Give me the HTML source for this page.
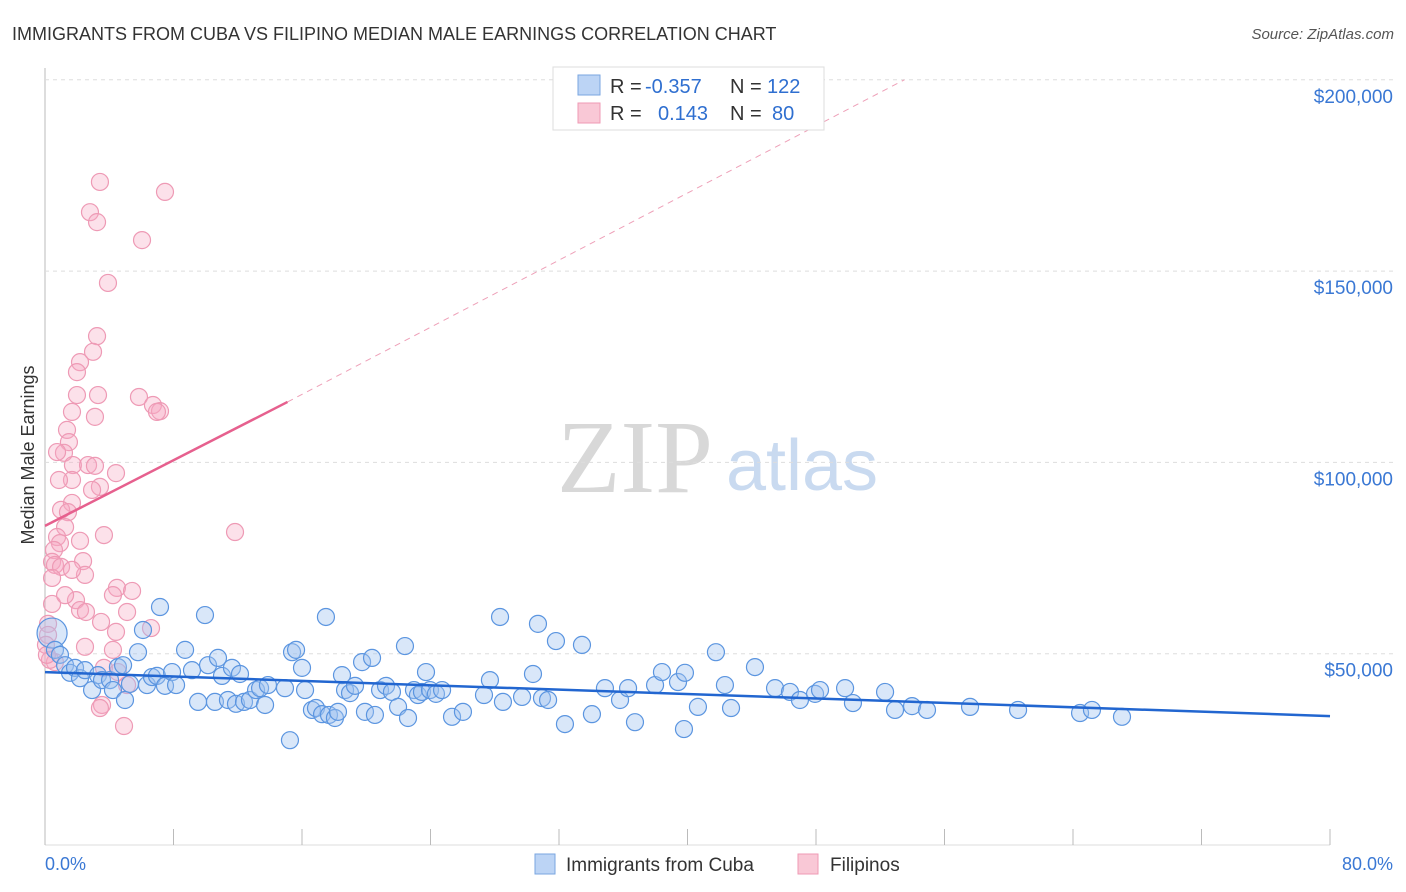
<!DOCTYPE html>
<html><head><meta charset="utf-8">
<style>
body{margin:0;background:#fff;font-family:"Liberation Sans",sans-serif;}
#wrap{position:relative;width:1406px;height:892px;overflow:hidden;}
svg text{font-family:"Liberation Sans",sans-serif;}
</style></head>
<body>
<div id="wrap">
<svg id="svg" width="1406" height="892">
<text x="12" y="40" font-size="18" fill="#333">IMMIGRANTS FROM CUBA VS FILIPINO MEDIAN MALE EARNINGS CORRELATION CHART</text>
<text x="1394" y="39" font-size="15" fill="#555" font-style="italic" text-anchor="end">Source: ZipAtlas.com</text>
<text x="635" y="492" font-size="104" fill="#d8d8d8" text-anchor="middle" style="font-family:'Liberation Serif',serif">ZIP</text>
<text x="802" y="490" font-size="72" fill="#c9daf0" text-anchor="middle">atlas</text>
<text x="34" y="455" font-size="18" fill="#333" text-anchor="middle" transform="rotate(-90 34 455)">Median Male Earnings</text>
<g id="grid"></g><g id="marks"></g>
<g>
<rect x="553" y="67" width="271" height="63" fill="#fff" stroke="#ddd"/>
<rect x="578" y="75" width="22" height="20" fill="#bcd4f5" stroke="#7aa6e0"/>
<rect x="578" y="103" width="22" height="20" fill="#f9c8d6" stroke="#ef9ab4"/>
<text x="610" y="93" font-size="20" fill="#333">R = <tspan fill="#2f6fd0" x="645">-0.357</tspan><tspan x="730">N = </tspan><tspan fill="#2f6fd0" x="767">122</tspan></text>
<text x="610" y="120" font-size="20" fill="#333">R = <tspan fill="#2f6fd0" x="658">0.143</tspan><tspan x="730">N = </tspan><tspan fill="#2f6fd0" x="772">80</tspan></text>
</g>
<g>
<rect x="535" y="854" width="20" height="20" fill="#bcd4f5" stroke="#7aa6e0"/>
<text x="566" y="871" font-size="19" fill="#333">Immigrants from Cuba</text>
<rect x="798" y="854" width="20" height="20" fill="#f9c8d6" stroke="#ef9ab4"/>
<text x="830" y="871" font-size="19" fill="#333">Filipinos</text>
</g>
<text x="45" y="870" font-size="18" fill="#3a78d4">0.0%</text>
<text x="1393" y="870" font-size="18" fill="#3a78d4" text-anchor="end">80.0%</text>
</svg>
</div>
<script>
const yTicks=[50,100,150,200];
const yTickLabels=["$50,000","$100,000","$150,000","$200,000"];
const xTicks=[0,8,16,24,32,40,48,56,64,72,80];
const bluePx=[[52,633],[55,650],[60,655],[65,665],[70,673],[75,668],[80,678],[85,670],[92,690],[98,675],[102,680],[110,680],[113,690],[118,667],[123,665],[125,700],[130,684],[138,652],[143,630],[147,685],[152,677],[157,676],[160,607],[165,686],[172,672],[176,685],[185,650],[192,670],[198,702],[205,615],[208,665],[215,702],[218,658],[222,676],[228,700],[232,668],[236,704],[240,674],[244,702],[250,700],[256,690],[260,688],[265,705],[268,685],[285,688],[290,740],[292,652],[296,650],[302,668],[305,690],[312,710],[316,708],[322,714],[326,617],[329,715],[335,718],[338,712],[342,675],[345,690],[350,693],[355,686],[362,662],[365,712],[372,658],[375,715],[380,690],[386,686],[392,692],[398,707],[405,646],[408,718],[414,690],[418,695],[422,692],[426,672],[430,690],[436,694],[442,690],[452,717],[463,712],[484,695],[490,680],[500,617],[503,702],[522,697],[533,674],[538,624],[542,698],[548,700],[556,641],[565,724],[582,645],[592,714],[605,688],[620,700],[628,688],[635,722],[655,685],[662,672],[678,682],[685,673],[684,729],[698,707],[716,652],[725,685],[731,708],[755,667],[775,688],[790,692],[800,700],[815,694],[820,690],[845,688],[853,703],[885,692],[895,710],[912,706],[927,710],[970,707],[1018,710],[1080,713],[1092,710],[1122,717]];
const pinkPx=[[100,182],[165,192],[90,212],[97,222],[142,240],[108,283],[97,336],[93,352],[80,362],[77,372],[98,395],[77,395],[139,397],[153,405],[160,411],[157,412],[72,412],[95,417],[67,430],[69,442],[64,453],[57,452],[73,465],[88,465],[95,466],[116,473],[72,480],[59,480],[100,487],[92,490],[72,503],[61,510],[68,512],[65,527],[104,535],[235,532],[57,537],[60,543],[80,541],[54,550],[52,562],[55,565],[83,561],[61,567],[85,575],[52,578],[117,588],[132,591],[113,595],[76,600],[52,604],[80,610],[86,612],[48,624],[127,612],[101,622],[116,632],[151,628],[48,635],[46,645],[113,650],[85,647],[55,662],[104,668],[118,672],[127,685],[102,705],[100,708],[124,726],[50,660],[47,655],[72,570],[65,595]];
const cubaX=bluePx.map(p=>+((p[0]-45)*80/1285).toFixed(2));
const cubaY=bluePx.map(p=>+((845-p[1])*50/191.3).toFixed(1));
const filX=pinkPx.map(p=>+((p[0]-45)*80/1285).toFixed(2));
const filY=pinkPx.map(p=>+((845-p[1])*50/191.3).toFixed(1));
const cubaTrend=[[0,45.2],[80,33.7]];
const filTrend=[[0,83.4],[15.1,115.8],[53.5,200]];

const X=v=>45+v*1285/80;
const Y=v=>845-v*191.3/50;
const NS="http://www.w3.org/2000/svg";
function mk(tag,attrs,parent){const e=document.createElementNS(NS,tag);for(const k in attrs)e.setAttribute(k,attrs[k]);parent.appendChild(e);return e;}
const grid=document.getElementById('grid'),marks=document.getElementById('marks');
let l=mk('line',{x1:45,y1:68,x2:45,y2:845,stroke:'#bbb'},grid);


l=mk('line',{x1:45,y1:845,x2:1330,y2:845,stroke:'#ddd'},grid);


yTicks.forEach((t,i)=>{
  const g=mk('line',{x1:45,x2:1394,y1:Y(t),y2:Y(t),stroke:'#ddd','stroke-dasharray':'4,4'},grid);
  
  
  const tx=mk('text',{x:1393,y:Y(t)+23,'font-size':19,fill:'#3a78d4','text-anchor':'end'},grid);
  tx.textContent=yTickLabels[i];
  
  
});
xTicks.forEach(t=>{
  const g=mk('line',{x1:X(t),x2:X(t),y1:829,y2:845,stroke:'#bbb'},grid);
  
  
});
filX.forEach((x,i)=>{
  const c=mk('circle',{cx:X(x),cy:Y(filY[i]),r:8.5,fill:'rgba(246,170,195,0.35)',stroke:'#ee9ab5','stroke-width':1.2},marks);
  
  
});
cubaX.forEach((x,i)=>{
  const c=mk('circle',{cx:X(x),cy:Y(cubaY[i]),r:i==0?15:8.5,fill:'rgba(160,195,240,0.4)',stroke:'#5b95e0','stroke-width':1.2},marks);
  
  
});
let t=mk('line',{x1:X(cubaTrend[0][0]),y1:Y(cubaTrend[0][1]),x2:X(cubaTrend[1][0]),y2:Y(cubaTrend[1][1]),stroke:'#2266d0','stroke-width':2.5},marks);


t=mk('line',{x1:X(filTrend[0][0]),y1:Y(filTrend[0][1]),x2:X(filTrend[1][0]),y2:Y(filTrend[1][1]),stroke:'#e6608e','stroke-width':2.5},marks);


t=mk('line',{x1:X(filTrend[1][0]),y1:Y(filTrend[1][1]),x2:X(filTrend[2][0]),y2:Y(filTrend[2][1]),stroke:'#eea0b8','stroke-width':1,'stroke-dasharray':'6,5'},marks);


</script>
</body></html>
